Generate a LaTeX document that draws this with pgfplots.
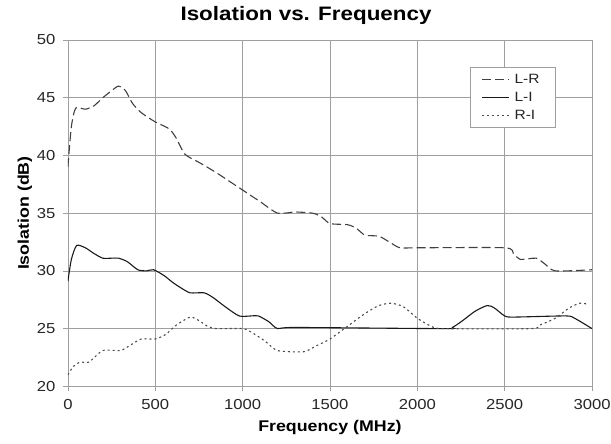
\documentclass[border=0pt]{standalone}
\usepackage{fontspec}
\setmainfont{Liberation Sans}[FakeStretch=1.15]
\usepackage{pgfplots}
\pgfplotsset{compat=1.18}

\begin{document}
\begin{tikzpicture}
\begin{axis}[
  scale only axis,
  width=525pt, height=347pt,
  xmin=0, xmax=3000, ymin=20, ymax=50,
  xtick={0,500,...,3000}, ytick={20,25,...,50},
  grid=major,
  grid style={gray!75, line width=0.7pt},
  axis line style={gray!75, line width=0.7pt},
  tick style={gray!75, line width=0.7pt},
  tick align=outside, major tick length=5pt,
  xtick pos=bottom, ytick pos=left,
  /pgf/number format/assume math mode=true,
  /pgf/number format/1000 sep={},
  tick label style={font=\fontsize{14.5}{16}\selectfont, text=black!85},
  xticklabel style={yshift=-5pt},
  yticklabel style={xshift=-4pt},
  xlabel={\textbf{Frequency (MHz)}},
  ylabel={\textbf{Isolation (dB)}},
  label style={font=\fontsize{15.5}{17}\selectfont},
  xlabel style={yshift=-3pt},
  ylabel style={yshift=-2pt},
  legend style={at={(rel axis cs:0.931,0.922)}, anchor=north east,
    draw=gray!75, line width=0.7pt, font=\fontsize{13.5}{15}\selectfont,
    row sep=3pt, inner xsep=11pt, inner ysep=5pt, text=black!85,
    nodes={inner xsep=5pt}},
  legend cell align=left,
  legend image code/.code={\draw[#1, line width=0.9pt] (0pt,0pt) -- (27pt,0pt);},
]
\addplot[black!75, line width=1.1pt, dash pattern=on 9pt off 4pt, smooth, tension=0.4] coordinates {
 (0,39.0) (20,42.5) (45,44.1) (100,44.0) (150,44.3) (200,45.0) (250,45.6)
 (290,46.0) (330,45.6) (370,44.5) (420,43.7) (500,42.9) (580,42.3) (620,41.5)
 (670,40.1) (750,39.4) (850,38.5) (1000,37.0) (1100,36.0) (1200,35.0)
 (1300,35.1) (1400,35.0) (1450,34.7) (1500,34.1) (1600,34.0) (1650,33.7)
 (1700,33.1) (1780,33.0) (1840,32.5) (1900,32.0) (2000,32.0) (2500,32.0)
 (2550,31.5) (2590,31.0) (2680,31.1) (2730,30.6) (2790,30.0) (3000,30.1)
};
\addlegendentry{L-R}
\addplot[black!90, line width=1.1pt, smooth, tension=0.4] coordinates {
 (0,29.1) (20,31.0) (50,32.2) (100,32.0) (150,31.5) (200,31.1) (250,31.1)
 (290,31.1) (340,30.8) (400,30.1) (450,30.0) (490,30.1) (550,29.6) (600,29.0)
 (650,28.5) (700,28.1) (780,28.1) (830,27.7) (900,26.9) (980,26.1) (1050,26.1)
 (1090,26.1) (1150,25.6) (1200,25.0) (1300,25.1) (2150,25.0) (2200,25.1)
 (2260,25.7) (2330,26.5) (2400,27.0) (2440,26.8) (2500,26.1) (2550,26.0)
 (2850,26.1) (2900,25.9) (3000,25.0)
};
\addlegendentry{L-I}
\addplot[black!70, line width=1.1pt, dash pattern=on 2pt off 3pt, smooth, tension=0.4] coordinates {
 (0,21.0) (30,21.7) (70,22.1) (120,22.1) (200,23.1) (300,23.1) (350,23.5)
 (420,24.1) (500,24.1) (560,24.5) (620,25.3) (700,26.0) (750,25.7) (800,25.2)
 (850,25.0) (1000,25.0) (1060,24.6) (1130,23.9) (1200,23.1) (1350,23.0)
 (1420,23.5) (1500,24.1) (1600,25.2) (1700,26.3) (1780,27.0) (1850,27.2)
 (1920,26.9) (2000,25.9) (2080,25.2) (2150,25.0) (2650,25.0) (2700,25.3)
 (2790,25.9) (2870,26.8) (2930,27.2) (2980,27.1)
};
\addlegendentry{R-I}
\end{axis}
\node[font=\fontsize{19.5}{22}\selectfont\bfseries, anchor=center]
  at ([xshift=-24pt, yshift=25pt]current axis.north) {Isolation vs. Frequency};
\pgfresetboundingbox
\path ([xshift=-68pt, yshift=-57pt]current axis.south west) rectangle ([xshift=19pt, yshift=40pt]current axis.north east);
\end{tikzpicture}
\end{document}
